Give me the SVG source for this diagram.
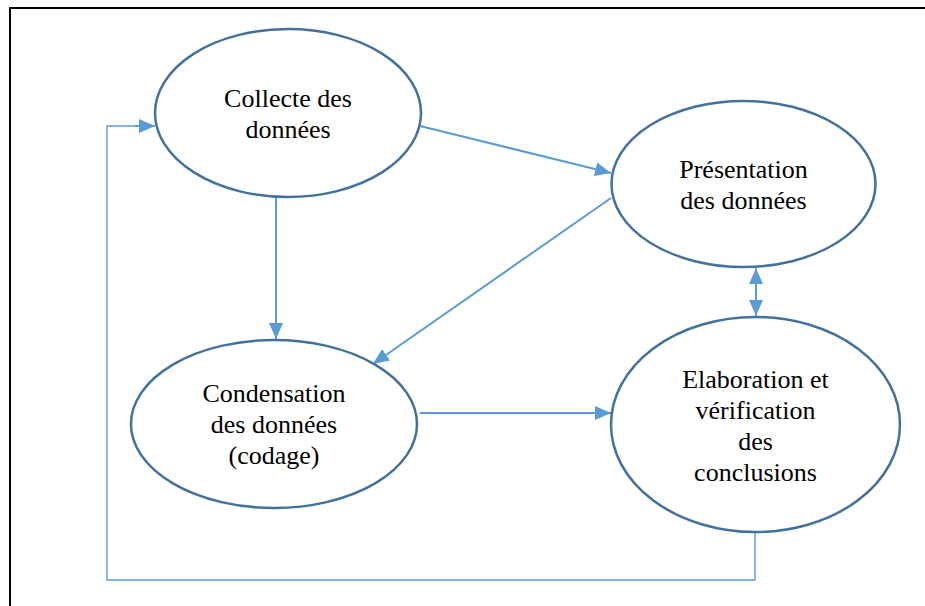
<svg xmlns="http://www.w3.org/2000/svg" width="925" height="606" viewBox="0 0 925 606">
<style>
.node ellipse{fill:#fff;stroke:#41719C;stroke-width:2.5}
.node text{font-size:26px;fill:#000;text-anchor:middle}
.conn{fill:none;stroke:#5B9BD5;stroke-width:2}
.thin{stroke-width:1.4}
</style>
<defs>
<marker id="ah" markerUnits="userSpaceOnUse" markerWidth="17" markerHeight="15" refX="16" refY="7" orient="auto-start-reverse">
<path d="M0,0 L16,7 L0,14 z" fill="#5B9BD5"/>
</marker>
</defs>
<rect x="0" y="0" width="925" height="606" fill="#fff"/>
<path d="M10,606 V8 H925" fill="none" stroke="#000" stroke-width="2"/>
<g id="connectors">
<path class="conn" d="M420,126 L611,173" marker-end="url(#ah)"/>
<path class="conn" d="M611,198 L373,364" marker-end="url(#ah)"/>
<path class="conn" d="M276,197 V339" marker-end="url(#ah)"/>
<path class="conn" d="M420,413 H611" marker-end="url(#ah)"/>
<path class="conn" d="M756,268 V316" marker-start="url(#ah)" marker-end="url(#ah)"/>
<path class="conn thin" d="M755,532 V580 H107 V126 H154"/>
<path class="conn" d="M135,126 H155" marker-end="url(#ah)"/>
</g>
<g font-family="'Liberation Serif', 'Times New Roman', serif">
<g id="collecte" class="node">
<ellipse cx="288" cy="113" rx="133" ry="84"/>
<text x="288" y="107">Collecte des</text>
<text x="288" y="138">données</text>
</g>
<g id="presentation" class="node">
<ellipse cx="743.5" cy="184" rx="132" ry="83"/>
<text x="743.5" y="178">Présentation</text>
<text x="743.5" y="209">des données</text>
</g>
<g id="condensation" class="node">
<ellipse cx="274" cy="424" rx="143" ry="84"/>
<text x="274" y="402">Condensation</text>
<text x="274" y="433">des données</text>
<text x="274" y="464">(codage)</text>
</g>
<g id="elaboration" class="node">
<ellipse cx="755.5" cy="424.5" rx="144.5" ry="107.5"/>
<text x="755.5" y="388">Elaboration et</text>
<text x="755.5" y="419">vérification</text>
<text x="755.5" y="450">des</text>
<text x="755.5" y="481">conclusions</text>
</g>
</g>
</svg>
